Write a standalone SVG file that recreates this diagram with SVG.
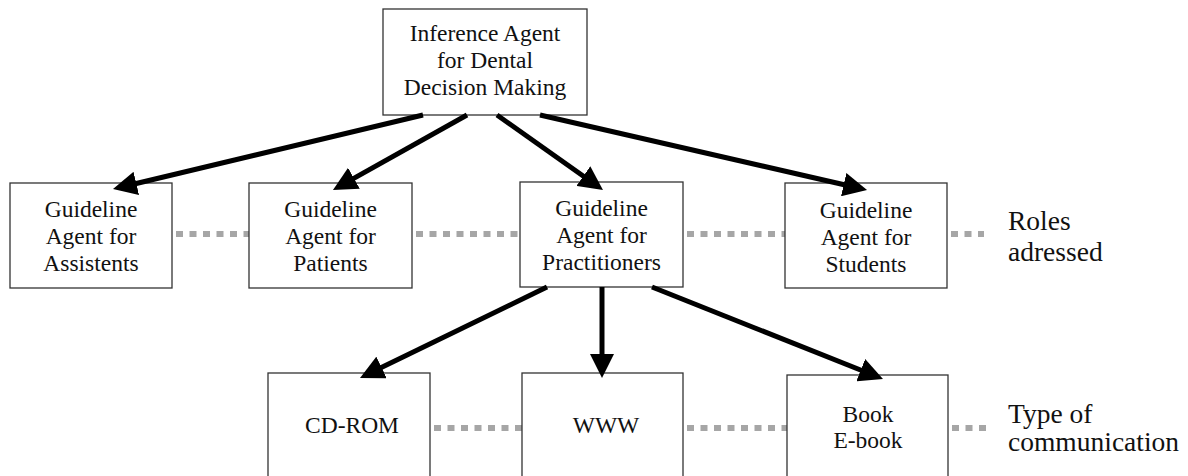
<svg xmlns="http://www.w3.org/2000/svg" width="1188" height="476" viewBox="0 0 1188 476">
<style>
.box{fill:#fff;stroke:#333;stroke-width:1.3}
.t{font-family:"Liberation Serif","Times New Roman",serif;font-size:23.5px;fill:#111;text-anchor:middle}
.side{font-family:"Liberation Serif","Times New Roman",serif;font-size:27.5px;fill:#111}
.arr{stroke:#000;stroke-width:5;fill:none;marker-end:url(#ah)}
.dot{stroke:#a6a6a6;stroke-width:6;stroke-dasharray:7 6.5;fill:none}
</style>
<defs>
<marker id="ah" markerUnits="userSpaceOnUse" markerWidth="24" markerHeight="24" refX="14" refY="12" orient="auto">
<path d="M0,0 L24,12 L0,24 z" fill="#000"/>
</marker>
</defs>
<rect width="1188" height="476" fill="#fff"/>
<g id="dotted">
<line class="dot" x1="176" y1="234" x2="249" y2="234"/>
<line class="dot" x1="416" y1="234" x2="520" y2="234"/>
<line class="dot" x1="687" y1="234" x2="785" y2="234"/>
<line class="dot" x1="951" y1="234" x2="984" y2="234"/>
<line class="dot" x1="434" y1="428" x2="522" y2="428"/>
<line class="dot" x1="687" y1="428" x2="787" y2="428"/>
<line class="dot" x1="952" y1="428" x2="988" y2="428"/>
</g>
<g id="inference">
<rect class="box" x="383" y="9" width="204" height="106"/>
<text class="t" x="485" y="41">Inference Agent</text>
<text class="t" x="485" y="68">for Dental</text>
<text class="t" x="485" y="95">Decision Making</text>
</g>
<g id="assistents">
<rect class="box" x="10" y="183" width="162" height="105"/>
<text class="t" x="91" y="217">Guideline</text>
<text class="t" x="91" y="244">Agent for</text>
<text class="t" x="91" y="271">Assistents</text>
</g>
<g id="patients">
<rect class="box" x="249" y="183" width="163" height="105"/>
<text class="t" x="330.5" y="217">Guideline</text>
<text class="t" x="330.5" y="244">Agent for</text>
<text class="t" x="330.5" y="271">Patients</text>
</g>
<g id="practitioners">
<rect class="box" x="520" y="182" width="163" height="105"/>
<text class="t" x="601.5" y="216">Guideline</text>
<text class="t" x="601.5" y="243">Agent for</text>
<text class="t" x="601.5" y="270">Practitioners</text>
</g>
<g id="students">
<rect class="box" x="785" y="183" width="162" height="105"/>
<text class="t" x="866" y="218">Guideline</text>
<text class="t" x="866" y="245">Agent for</text>
<text class="t" x="866" y="272">Students</text>
</g>
<g id="cdrom">
<rect class="box" x="268" y="373" width="162" height="120"/>
<text class="t" x="352" y="433">CD-ROM</text>
</g>
<g id="www">
<rect class="box" x="522" y="373" width="161" height="120"/>
<text class="t" x="606" y="433">WWW</text>
</g>
<g id="book">
<rect class="box" x="787" y="375" width="161" height="120"/>
<text class="t" x="868" y="422">Book</text>
<text class="t" x="868" y="448">E-book</text>
</g>
<g id="labels">
<text class="side" x="1008" y="230">Roles</text>
<text class="side" x="1008" y="261">adressed</text>
<text class="side" x="1008" y="423">Type of</text>
<text class="side" x="1008" y="451">communication</text>
</g>
<g id="connectors">
<line class="arr" x1="423" y1="115" x2="122.7" y2="186.7"/>
<line class="arr" x1="467" y1="115" x2="341.7" y2="185.1"/>
<line class="arr" x1="497" y1="115" x2="594.8" y2="184.2"/>
<line class="arr" x1="540" y1="115" x2="857.3" y2="187.8"/>
<line class="arr" x1="547" y1="287" x2="369" y2="373.6"/>
<line class="arr" x1="602" y1="287" x2="602" y2="368"/>
<line class="arr" x1="652" y1="287" x2="873.7" y2="375.3"/>
</g>
</svg>
